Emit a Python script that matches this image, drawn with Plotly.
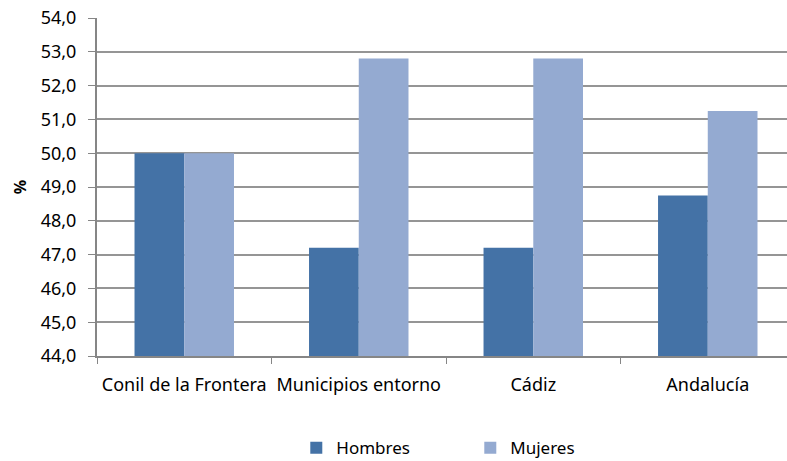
import plotly.graph_objects as go

categories = ["Conil de la Frontera", "Municipios entorno", "Cádiz", "Andalucía"]
hombres = [50.0, 47.2, 47.2, 48.75]
mujeres = [50.0, 52.8, 52.8, 51.25]
y_ticks = [44, 45, 46, 47, 48, 49, 50, 51, 52, 53, 54]

FONT = "Noto Sans"
fig = go.Figure()
fig.add_trace(go.Bar(name="Hombres", x=categories, y=hombres, marker_color="#4472A6",
                     marker_line_width=0))
fig.add_trace(go.Bar(name="Mujeres", x=categories, y=mujeres, marker_color="#94AAD1",
                     marker_line_width=0))

fig.update_layout(
    width=787, height=461,
    margin=dict(l=97, r=0, t=18, b=105, pad=0),
    paper_bgcolor="white", plot_bgcolor="white",
    separators=",.",
    barmode="group", bargap=0.43, bargroupgap=0,
    font=dict(family=FONT, size=18, color="#000000"),
    showlegend=True,
    legend=dict(orientation="h", x=0.541, xanchor="center",
                yref="container", y=0.067, yanchor="top",
                entrywidth=129, entrywidthmode="pixels",
                font=dict(family=FONT, size=17)),
    xaxis=dict(type="category", range=[-0.5, 3.454], showgrid=False, automargin=False,
               showline=True, linecolor="#868686", linewidth=2,
               ticks="outside", tickson="boundaries", ticklen=6, tickcolor="#868686",
               tickwidth=1, ticklabelstandoff=11, ticklabeloverflow="allow",
               tickfont=dict(family=FONT, size=18)),
    yaxis=dict(range=[44, 54], tickvals=y_ticks, tickformat=".1f", automargin=False,
               showgrid=True, gridcolor="#959595", gridwidth=2,
               showline=True, linecolor="#868686", linewidth=2,
               ticks="outside", ticklen=7, tickcolor="#868686", tickwidth=1,
               ticklabelstandoff=8, ticklabeloverflow="allow",
               tickfont=dict(family=FONT, size=18), zeroline=False,
               title=dict(text="<b>%</b>", font=dict(family=FONT, size=16), standoff=10)),
)

fig.write_html(
    "out.html",
    config={"displayModeBar": False},
    post_script="document.body.style.margin='0';document.body.style.overflow='hidden';",
)
